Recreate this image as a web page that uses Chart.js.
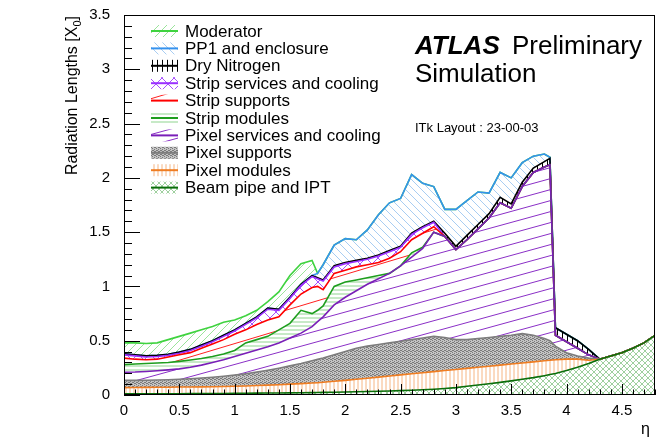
<!DOCTYPE html>
<html>
<head>
<meta charset="utf-8">
<script src="https://cdn.jsdelivr.net/npm/chart.js@4.4.1/dist/chart.umd.min.js"></script>
<style>
  body { margin: 0; background: #fff; }
  #box { width: 656px; height: 438px; }
</style>
</head>
<body>
<div id="box"><canvas id="grafico" width="656" height="438"></canvas></div>
<script>
// eta bins (extra points where the stack drops sharply)
const eta = [0, 0.1, 0.2, 0.3, 0.4, 0.5, 0.6, 0.7, 0.8, 0.9, 1.0, 1.1, 1.2, 1.3, 1.4, 1.5, 1.6, 1.7, 1.75,
  1.8, 1.9, 2.0, 2.1, 2.2, 2.3, 2.4, 2.5, 2.6, 2.7, 2.8, 2.9, 3.0, 3.1, 3.2, 3.3, 3.4, 3.5, 3.6, 3.7, 3.8, 3.85,
  3.9, 4.0, 4.1, 4.2, 4.3, 4.4, 4.5, 4.6, 4.7, 4.8];

// stacked totals, bottom layer first (X0)
const beamPipe = [0.010, 0.010, 0.011, 0.011, 0.012, 0.012, 0.013, 0.013, 0.014, 0.014,
  0.015, 0.016, 0.017, 0.018, 0.019, 0.020, 0.021, 0.022,
  0.023, 0.024, 0.026, 0.028, 0.030, 0.032, 0.034, 0.037, 0.040, 0.044,
  0.048, 0.053, 0.060, 0.068, 0.080, 0.092, 0.104, 0.116, 0.130, 0.145,
  0.160, 0.178, 0.188, 0.198, 0.225, 0.255, 0.290, 0.330, 0.360, 0.390,
  0.430, 0.480, 0.550];
const pixelModules = [0.068, 0.069, 0.070, 0.071, 0.072, 0.073, 0.074, 0.075, 0.076, 0.078,
  0.080, 0.083, 0.087, 0.091, 0.095, 0.100, 0.105, 0.110,
  0.113, 0.117, 0.126, 0.135, 0.145, 0.155, 0.165, 0.175, 0.185, 0.195,
  0.205, 0.215, 0.225, 0.235, 0.245, 0.255, 0.265, 0.275, 0.285, 0.295,
  0.305, 0.315, 0.320, 0.325, 0.330, 0.330, 0.320, 0.330, 0.360, 0.390,
  0.430, 0.480, 0.550];
const pixelSupports = [0.135, 0.135, 0.136, 0.138, 0.141, 0.145, 0.150, 0.156, 0.163, 0.172,
  0.183, 0.196, 0.211, 0.228, 0.247, 0.268, 0.290, 0.315,
  0.328, 0.340, 0.370, 0.400, 0.430, 0.450, 0.465, 0.480, 0.495, 0.510,
  0.525, 0.540, 0.530, 0.510, 0.510, 0.520, 0.530, 0.540, 0.550, 0.565,
  0.550, 0.520, 0.500, 0.450, 0.390, 0.360, 0.340, 0.330, 0.360, 0.390,
  0.430, 0.480, 0.550];
const pixelServices = [0.210, 0.212, 0.217, 0.223, 0.231, 0.241, 0.255, 0.275, 0.300, 0.325,
  0.355, 0.385, 0.415, 0.445, 0.480, 0.525, 0.570, 0.630,
  0.675, 0.720, 0.830, 0.900, 0.960, 1.020, 1.070, 1.120, 1.190, 1.270,
  1.350, 1.500, 1.460, 1.340, 1.430, 1.530, 1.630, 1.770, 1.720, 1.920,
  2.050, 2.100, 2.120, 0.550, 0.490, 0.430, 0.370, 0.330, 0.360, 0.390,
  0.430, 0.480, 0.550];
const stripModules = [0.280, 0.285, 0.290, 0.295, 0.300, 0.310, 0.322, 0.336, 0.354, 0.378,
  0.410, 0.480, 0.510, 0.540, 0.600, 0.660, 0.780, 0.750,
  0.780, 0.820, 1.000, 1.040, 1.060, 1.080, 1.100, 1.120, 1.190, 1.310,
  1.360, 1.500, 1.460, 1.340, 1.430, 1.530, 1.630, 1.770, 1.720, 1.920,
  2.050, 2.100, 2.120, 0.550, 0.490, 0.430, 0.370, 0.330, 0.360, 0.390,
  0.430, 0.480, 0.550];
const stripSupports = [0.340, 0.330, 0.325, 0.330, 0.350, 0.370, 0.390, 0.430, 0.470, 0.510,
  0.560, 0.600, 0.650, 0.690, 0.720, 0.830, 0.930, 0.990,
  1.000, 0.970, 1.120, 1.150, 1.180, 1.200, 1.220, 1.260, 1.320, 1.430,
  1.490, 1.550, 1.460, 1.340, 1.430, 1.530, 1.630, 1.770, 1.720, 1.920,
  2.050, 2.100, 2.120, 0.550, 0.490, 0.430, 0.370, 0.330, 0.360, 0.390,
  0.430, 0.480, 0.550];
const stripServices = [0.370, 0.360, 0.350, 0.355, 0.365, 0.385, 0.410, 0.450, 0.490, 0.540,
  0.590, 0.650, 0.710, 0.790, 0.780, 0.890, 1.010, 1.090,
  1.070, 1.050, 1.180, 1.210, 1.230, 1.250, 1.280, 1.320, 1.360, 1.480,
  1.540, 1.590, 1.460, 1.340, 1.430, 1.530, 1.630, 1.770, 1.720, 1.920,
  2.050, 2.100, 2.120, 0.550, 0.490, 0.430, 0.370, 0.330, 0.360, 0.390,
  0.430, 0.480, 0.550];
const dryNitrogen = [0.380, 0.370, 0.360, 0.365, 0.375, 0.395, 0.420, 0.460, 0.500, 0.550,
  0.600, 0.660, 0.720, 0.800, 0.790, 0.900, 1.020, 1.100,
  1.080, 1.060, 1.190, 1.220, 1.240, 1.260, 1.290, 1.330, 1.370, 1.490,
  1.550, 1.600, 1.490, 1.370, 1.470, 1.570, 1.670, 1.820, 1.760, 1.960,
  2.090, 2.150, 2.180, 0.620, 0.560, 0.500, 0.420, 0.330, 0.360, 0.390,
  0.430, 0.480, 0.550];
const pp1Enclosure = [0.380, 0.370, 0.360, 0.365, 0.375, 0.395, 0.420, 0.460, 0.500, 0.550,
  0.600, 0.660, 0.720, 0.800, 0.790, 0.900, 1.020, 1.100,
  1.120, 1.200, 1.380, 1.440, 1.430, 1.520, 1.660, 1.770, 1.810, 2.030,
  1.950, 1.920, 1.710, 1.710, 1.790, 1.870, 1.860, 2.050, 2.000, 2.140,
  2.200, 2.220, 2.190, 0.620, 0.560, 0.500, 0.420, 0.330, 0.360, 0.390,
  0.430, 0.480, 0.550];
const moderator = [0.480, 0.480, 0.475, 0.480, 0.510, 0.540, 0.570, 0.600, 0.630, 0.670,
  0.690, 0.730, 0.780, 0.860, 0.950, 1.100, 1.210, 1.240,
  1.120, 1.200, 1.380, 1.440, 1.430, 1.520, 1.660, 1.770, 1.810, 2.030,
  1.950, 1.920, 1.710, 1.710, 1.790, 1.870, 1.860, 2.050, 2.000, 2.140,
  2.200, 2.220, 2.190, 0.620, 0.560, 0.500, 0.420, 0.330, 0.360, 0.390,
  0.430, 0.480, 0.550];

const layerNames = ['Beam pipe and IPT', 'Pixel modules', 'Pixel supports', 'Pixel services and cooling',
  'Strip modules', 'Strip supports', 'Strip services and cooling', 'Dry Nitrogen', 'PP1 and enclosure', 'Moderator'];
const layerValues = [beamPipe, pixelModules, pixelSupports, pixelServices, stripModules,
  stripSupports, stripServices, dryNitrogen, pp1Enclosure, moderator];
const xTicks = [0, 0.5, 1, 1.5, 2, 2.5, 3, 3.5, 4, 4.5];

const FONT = "'Liberation Sans', Arial, Helvetica, sans-serif";

// hatch patterns like ROOT fill styles
function hatch(w, h, color, lw, paths, bg) {
  const c = document.createElement('canvas');
  c.width = w; c.height = h;
  const g = c.getContext('2d');
  if (bg) { g.fillStyle = bg; g.fillRect(0, 0, w, h); }
  g.strokeStyle = color;
  g.lineWidth = lw;
  g.beginPath();
  paths.forEach(p => { g.moveTo(p[0], p[1]); g.lineTo(p[2], p[3]); });
  g.stroke();
  return g.createPattern(c, 'repeat');
}

function dots() {
  const c = document.createElement('canvas');
  c.width = 4; c.height = 4;
  const g = c.getContext('2d');
  g.fillStyle = '#c4c4c4'; g.fillRect(0, 0, 4, 4);
  g.fillStyle = '#7a7a7a';
  g.fillRect(0, 0, 1, 1); g.fillRect(2, 1, 1, 1); g.fillRect(1, 2, 1, 1); g.fillRect(3, 3, 1, 1);
  g.fillRect(2, 3, 1, 1); g.fillRect(0, 2, 1, 1);
  return g.createPattern(c, 'repeat');
}

const styles = [
  { line: '#0a6e0a', fill: hatch(6, 6, '#86c486', 0.8, [[0, 0, 6, 6], [0, 6, 6, 0]]) },
  { line: '#ef7d22', fill: hatch(4, 4, '#f6b582', 1, [[2, 0, 2, 4]]) },
  { line: '#7d7d7d', fill: dots() },
  { line: '#7a1fb8', fill: hatch(40, 11, '#8a2fc6', 1, [[0, 11, 40, 0], [0, 22, 40, 11], [0, 0, 40, -11]]) },
  { line: '#1e9e1e', fill: hatch(4, 4, '#8fd48f', 1, [[0, 2, 4, 2]]) },
  { line: '#ff0000', fill: hatch(60, 18, '#ff2020', 1, [[0, 18, 60, 0], [0, 36, 60, 18], [0, 0, 60, -18]]) },
  { line: '#9a30ff', fill: hatch(12, 12, '#a850ff', 1, [[0, 0, 12, 12], [0, 12, 12, 0]]) },
  { line: '#000000', fill: hatch(5, 5, '#000000', 1, [[2.5, 0, 2.5, 5]]) },
  { line: '#3592ee', fill: hatch(8, 8, '#a8cdf2', 1, [[0, 0, 8, 8], [-4, 4, 4, 12], [4, -4, 12, 4]]) },
  { line: '#3fd33f', fill: hatch(8, 8, '#9be49b', 1, [[0, 8, 8, 0], [-4, 4, 4, -4], [4, 12, 12, 4]]) }
];

const datasets = layerValues.map((vals, i) => ({
  label: layerNames[i],
  data: eta.map((e, j) => ({ x: e, y: vals[j] })),
  borderColor: styles[i].line,
  borderWidth: 1.6,
  backgroundColor: styles[i].fill,
  fill: i === 0 ? 'origin' : '-1',
  pointRadius: 0,
  tension: 0
}));

// ticks inside the frame, ROOT style
const moldura = {
  id: 'moldura',
  afterDatasetsDraw(chart) {
    const { ctx, chartArea: a, scales: { x, y } } = chart;
    ctx.save();
    ctx.strokeStyle = '#000';
    ctx.lineWidth = 1;
    ctx.beginPath();
    for (let i = 0; i <= 48; i++) {
      const px = Math.round(x.getPixelForValue(i / 10)) + 0.5;
      const len = i % 5 === 0 ? 11 : 5.5;
      ctx.moveTo(px, a.bottom); ctx.lineTo(px, a.bottom - len);
    }
    for (let i = 0; i <= 35; i++) {
      const py = Math.round(y.getPixelForValue(i / 10)) + 0.5;
      const len = i % 5 === 0 ? 16 : 8;
      ctx.moveTo(a.left, py); ctx.lineTo(a.left + len, py);
    }
    ctx.stroke();
    ctx.strokeRect(a.left + 0.5, a.top + 0.5, a.right - a.left - 1, a.bottom - a.top - 1);
    ctx.restore();
  },
  afterDraw(chart) {
    const ctx = chart.ctx;
    ctx.save();
    ctx.fillStyle = '#000';
    // legend, top entry first
    ctx.textBaseline = 'middle';
    ctx.font = '17px ' + FONT;
    for (let k = 0; k < 10; k++) {
      const i = 9 - k;
      const yc = 31 + k * 17.4;
      ctx.fillStyle = styles[i].fill;
      ctx.fillRect(151, yc - 6, 27, 12);
      ctx.strokeStyle = styles[i].line;
      ctx.lineWidth = 2;
      ctx.beginPath(); ctx.moveTo(151, yc); ctx.lineTo(178, yc); ctx.stroke();
      ctx.fillStyle = '#000';
      ctx.fillText(layerNames[i], 185, yc + 1);
    }
    ctx.textBaseline = 'alphabetic';
    ctx.font = 'italic bold 26px ' + FONT;
    ctx.fillText('ATLAS', 415, 54);
    ctx.font = '26px ' + FONT;
    ctx.fillText('Preliminary', 512, 54);
    ctx.fillText('Simulation', 415, 82);
    ctx.font = '13px ' + FONT;
    ctx.fillText('ITk Layout : 23-00-03', 415, 132);
    // axis titles
    ctx.font = '16px ' + FONT;
    ctx.textAlign = 'right';
    ctx.fillText('η', 650, 434);
    ctx.save();
    ctx.translate(77, 16);
    ctx.rotate(-Math.PI / 2);
    ctx.font = '11px ' + FONT;
    const sub = ctx.measureText('0').width;
    ctx.font = '16px ' + FONT;
    const wb = ctx.measureText(']').width;
    ctx.fillText(']', 0, 0);
    ctx.font = '11px ' + FONT;
    ctx.fillText('0', -wb, 4);
    ctx.font = '16px ' + FONT;
    ctx.fillText('Radiation Lengths [X', -wb - sub, 0);
    ctx.restore();
    ctx.restore();
  }
};

const meuGrafico = new Chart(document.getElementById('grafico'), {
  type: 'line',
  data: { datasets: datasets },
  options: {
    responsive: false,
    animation: false,
    layout: { padding: { top: 15, right: 1, left: 0, bottom: 0 } },
    plugins: { legend: { display: false }, tooltip: { enabled: false } },
    scales: {
      x: {
        type: 'linear', min: 0, max: 4.8,
        afterFit: s => { s.height = 43; },
        afterBuildTicks: s => { s.ticks = xTicks.map(v => ({ value: v })); },
        grid: { display: false }, border: { display: false },
        ticks: { color: '#000', padding: -1, maxRotation: 0, font: { family: FONT, size: 15 },
          callback: v => String(+v.toFixed(1)) }
      },
      y: {
        min: 0, max: 3.5,
        afterFit: s => { s.width = 124; },
        grid: { display: false }, border: { display: false },
        ticks: { stepSize: 0.5, color: '#000', padding: 6, font: { family: FONT, size: 15 },
          callback: v => String(+v.toFixed(1)) }
      }
    }
  },
  plugins: [moldura]
});
</script>
</body>
</html>
